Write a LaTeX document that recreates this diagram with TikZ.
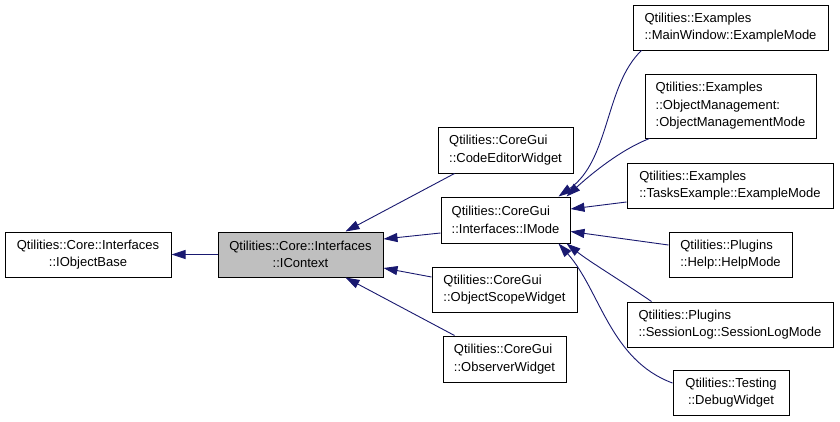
\documentclass[tikz,border=0pt]{standalone}
\usepackage{fontspec}
\setmainfont{Liberation Sans}
\usetikzlibrary{arrows.meta}
\definecolor{edgeblue}{HTML}{191970}
\definecolor{boxgray}{HTML}{BFBFBF}
\begin{document}
\begin{tikzpicture}[x=1pt,y=-1pt,
  box/.style={draw=black,line width=1pt,fill=white,inner sep=0pt,minimum height=45pt,
    font=\fontsize{13pt}{17.5pt}\selectfont},
  lbox/.style={box,align=left},
  cbox/.style={box,align=center},
  edge/.style={draw=edgeblue,line width=0.9pt,-{Triangle[length=14pt,width=9pt]}}]
\useasboundingbox[fill=white] (0,0) rectangle (840,421);
% nodes
\node[cbox,minimum width=166pt] (IObjectBase) at (88,254.5) {Qtilities::Core::Interfaces\\::IObjectBase};
\node[cbox,minimum width=165pt,fill=boxgray] (IContext) at (300.5,254.5) {Qtilities::Core::Interfaces\\::IContext};
\node[lbox,minimum width=135pt,minimum height=46pt] (CodeEditor) at (505.5,150) {Qtilities::CoreGui\\::CodeEditorWidget};
\node[lbox,minimum width=129pt,minimum height=46pt] (IMode) at (505.5,220) {Qtilities::CoreGui\\::Interfaces::IMode};
\node[lbox,minimum width=145pt] (ObjectScope) at (504.5,289.5) {Qtilities::CoreGui\\::ObjectScopeWidget};
\node[lbox,minimum width=123pt,minimum height=46pt] (Observer) at (504.5,359) {Qtilities::CoreGui\\::ObserverWidget};
\node[lbox,minimum width=195pt] (MainWindow) at (730.5,27.5) {Qtilities::Examples\\::MainWindow::ExampleMode};
\node[lbox,minimum width=171pt,minimum height=64pt] (ObjMgmt) at (730.5,106) {Qtilities::Examples\\::ObjectManagement:\\:ObjectManagementMode};
\node[lbox,minimum width=206pt] (Tasks) at (730,185.5) {Qtilities::Examples\\::TasksExample::ExampleMode};
\node[lbox,minimum width=123pt] (Help) at (730.5,254.5) {Qtilities::Plugins\\::Help::HelpMode};
\node[lbox,minimum width=206pt] (Session) at (730,324.5) {Qtilities::Plugins\\::SessionLog::SessionLogMode};
\node[cbox,minimum width=116pt] (Debug) at (731,392.5) {Qtilities::Testing\\::DebugWidget};
% edges
\draw[edge] (IContext.west) -- (IObjectBase.east);
\draw[edge] ([xshift=17pt]CodeEditor.south west) -- ([xshift=-38pt]IContext.north east);
\draw[edge] ([yshift=-13pt]IMode.west) -- ([yshift=15.5pt]IContext.east);
\draw[edge] ([yshift=12.5pt]ObjectScope.west) -- ([yshift=-13.5pt]IContext.east);
\draw[edge] ([xshift=12pt]Observer.north west) -- ([xshift=-38pt]IContext.south east);
\draw[edge] ([xshift=9pt]MainWindow.south west) .. controls (605,85) and (610,160) .. ([xshift=-12pt]IMode.north east);
\draw[edge] ([xshift=5pt]ObjMgmt.south west) .. controls (620,150) and (590,175) .. ([xshift=-4pt]IMode.north east);
\draw[edge] ([yshift=-16.5pt]Tasks.west) -- ([yshift=11pt]IMode.east);
\draw[edge] ([yshift=9.5pt]Help.west) -- ([yshift=-11.5pt]IMode.east);
\draw[edge] ([xshift=25pt]Session.north west) .. controls (620,280) and (590,262) .. ([xshift=-4pt]IMode.south east);
\draw[edge] ([yshift=9.5pt]Debug.west) .. controls (610,360) and (600,290) .. ([xshift=-12pt]IMode.south east);
\end{tikzpicture}
\end{document}
